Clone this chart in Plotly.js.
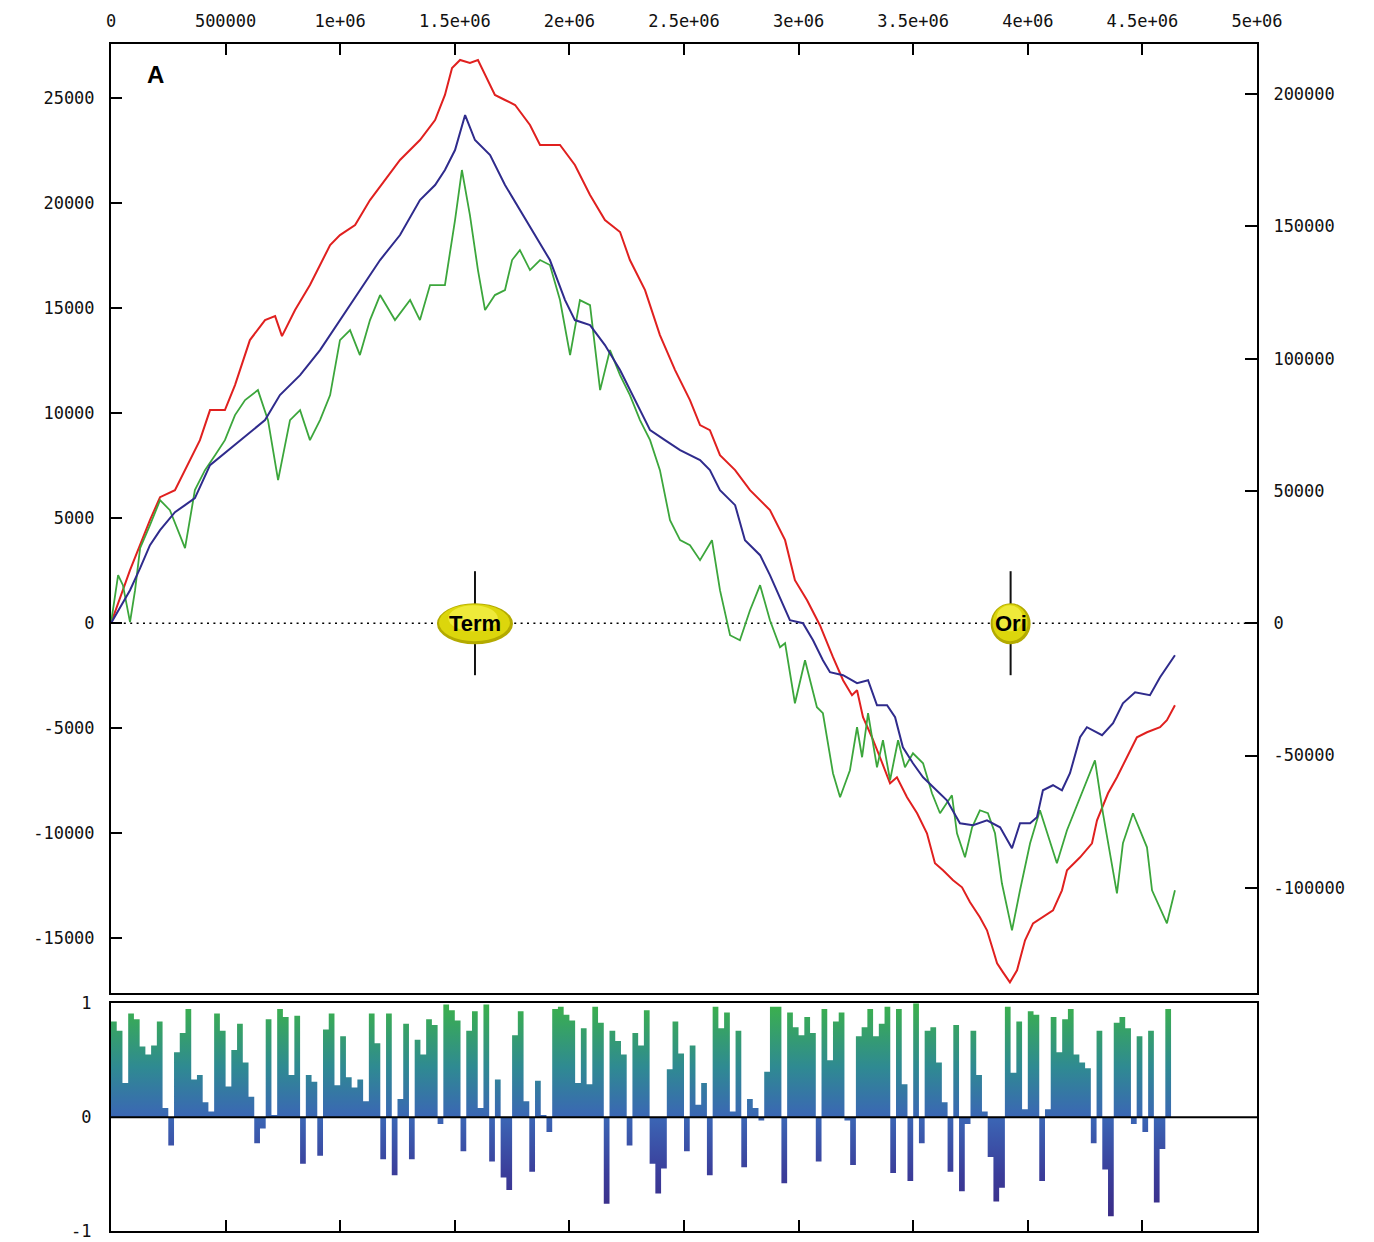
<!DOCTYPE html>
<html>
<head>
<meta charset="utf-8">
<script src="https://cdn.plot.ly/plotly-3.0.1.min.js"></script>
<style>html,body{margin:0;padding:0;background:#fff;}#chart{width:1374px;height:1242px;}</style>
</head>
<body>
<div id="chart"></div>
<script>
// ---------- Data ----------
const redX = [0,83000,170000,214000,279000,345000,388000,432000,497000,541000,606000,672000,716000,746000,803000,868000,956000,999000,1065000,1130000,1195000,1261000,1348000,1414000,1457000,1488000,1523000,1566000,1601000,1645000,1675000,1719000,1763000,1828000,1872000,1959000,2024000,2090000,2155000,2221000,2264000,2330000,2395000,2461000,2526000,2570000,2613000,2657000,2723000,2788000,2875000,2941000,2984000,3037000,3093000,3150000,3194000,3233000,3255000,3281000,3320000,3355000,3399000,3429000,3473000,3517000,3560000,3595000,3630000,3674000,3713000,3748000,3791000,3822000,3866000,3892000,3922000,3953000,3988000,4023000,4066000,4110000,4149000,4171000,4228000,4280000,4302000,4350000,4389000,4433000,4476000,4520000,4577000,4607000,4642000];
const redY = [0,2524,4905,6000,6333,7762,8714,10143,10143,11333,13476,14429,14619,13667,14905,16095,18000,18476,18952,20143,21095,22048,23000,23952,25143,26429,26810,26667,26810,25857,25143,24905,24667,23714,22762,22762,21810,20381,19190,18619,17286,15857,13714,12048,10619,9429,9190,8000,7286,6333,5381,3952,2048,1095,-95,-1619,-2714,-3429,-3190,-4476,-5429,-6381,-7619,-7333,-8286,-9048,-10000,-11429,-11762,-12238,-12571,-13286,-14000,-14619,-16190,-16619,-17095,-16524,-15095,-14286,-14000,-13667,-12714,-11762,-11143,-10476,-9381,-8095,-7333,-6381,-5429,-5190,-4952,-4619,-3905];

const blueX = [0,39000,83000,127000,170000,214000,279000,323000,366000,432000,563000,672000,737000,825000,912000,999000,1086000,1174000,1261000,1348000,1414000,1457000,1501000,1545000,1588000,1654000,1719000,1784000,1850000,1915000,1981000,2024000,2090000,2155000,2221000,2286000,2352000,2417000,2483000,2570000,2613000,2657000,2723000,2766000,2832000,2875000,2919000,2962000,3019000,3063000,3106000,3137000,3194000,3255000,3303000,3342000,3386000,3421000,3455000,3499000,3543000,3604000,3647000,3704000,3761000,3822000,3879000,3931000,3966000,4010000,4040000,4066000,4110000,4149000,4184000,4228000,4258000,4324000,4372000,4415000,4468000,4533000,4577000,4642000];
const blueY = [0,714,1571,2619,3714,4429,5286,5619,5952,7524,8714,9667,10857,11810,13000,14429,15857,17286,18476,20143,20857,21571,22524,24190,23000,22286,20857,19667,18476,17286,15381,14429,14190,13238,12048,10619,9190,8714,8238,7762,7286,6333,5619,3952,3238,2286,1238,143,0,-810,-1762,-2333,-2476,-2857,-2714,-3905,-3905,-4476,-5905,-6667,-7333,-7952,-8429,-9524,-9619,-9381,-9714,-10714,-9524,-9524,-9238,-7952,-7714,-7952,-7143,-5429,-4952,-5333,-4762,-3810,-3286,-3429,-2571,-1524];

const greenX = [0,31000,52000,83000,105000,127000,170000,214000,257000,301000,323000,366000,410000,454000,497000,541000,585000,641000,685000,729000,781000,825000,868000,912000,956000,999000,1043000,1086000,1130000,1174000,1239000,1305000,1348000,1392000,1457000,1501000,1531000,1566000,1601000,1632000,1675000,1719000,1750000,1784000,1828000,1872000,1915000,1959000,2003000,2046000,2090000,2134000,2177000,2221000,2264000,2308000,2352000,2395000,2439000,2483000,2526000,2570000,2622000,2657000,2701000,2744000,2788000,2832000,2875000,2919000,2941000,2984000,3028000,3080000,3106000,3150000,3181000,3224000,3255000,3277000,3303000,3342000,3368000,3399000,3434000,3464000,3499000,3543000,3582000,3617000,3669000,3691000,3726000,3757000,3791000,3826000,3857000,3887000,3931000,3966000,4010000,4053000,4084000,4127000,4171000,4228000,4293000,4328000,4389000,4415000,4459000,4520000,4542000,4607000,4642000];
const greenY = [0,2286,1810,48,1571,3571,4667,5857,5381,4190,3571,6333,7286,8000,8714,9905,10619,11095,9667,6810,9667,10143,8714,9667,10857,13476,13952,12762,14429,15619,14429,15381,14429,16095,16095,19190,21571,19429,16810,14905,15619,15857,17286,17762,16810,17286,17048,15381,12762,15381,15143,11095,13000,11810,10857,9667,8714,7286,4905,3952,3714,3000,3952,1571,-571,-810,619,1810,143,-1143,-952,-3810,-1762,-4000,-4286,-7143,-8286,-7000,-4952,-6381,-4286,-6857,-5571,-7476,-5571,-6857,-6190,-6667,-8095,-9048,-8190,-10000,-11143,-9714,-8905,-9048,-10000,-12381,-14619,-12714,-10476,-8905,-10000,-11429,-9857,-8286,-6524,-9048,-12857,-10476,-9048,-10667,-12714,-14286,-12714];

// bar values per 25 kb window (lower panel)
const barValues = [
 0.84,0.76,0.30,0.91,0.86,0.62,0.55,0.63,0.84,0.08,-0.25,0.57,0.74,0.95,0.33,0.37,0.13,0.05,0.91,0.76,
 0.27,0.59,0.82,0.48,0.18,-0.23,-0.10,0.86,0.02,0.95,0.88,0.37,0.89,-0.41,0.37,0.31,-0.34,0.77,0.91,0.28,
 0.71,0.35,0.26,0.33,0.14,0.91,0.65,-0.37,0.91,-0.51,
 0.16,0.82,-0.37,0.68,0.55,0.86,0.81,-0.06,0.99,0.94,0.85,-0.30,0.76,0.93,0.08,0.99,-0.39,0.33,-0.53,-0.64,
 0.72,0.93,0.14,-0.48,0.32,0.02,-0.13,0.95,0.97,0.90,0.85,0.30,0.78,0.29,0.97,0.83,-0.76,0.76,0.67,0.55,
 -0.25,0.74,0.63,0.94,-0.41,-0.67,-0.45,0.42,0.84,0.56,-0.30,
 0.63,0.11,0.30,-0.51,0.97,0.78,0.92,0.05,0.76,-0.44,0.16,0.08,-0.03,0.40,0.97,0.97,-0.58,0.92,0.79,0.72,
 0.88,0.74,-0.39,0.95,0.50,0.84,0.92,-0.03,-0.42,0.71,0.79,0.95,0.71,0.82,0.97,-0.49,0.95,0.29,-0.56,1.00,
 -0.23,0.76,0.79,0.48,0.13,-0.48,0.81,-0.65,-0.06,0.76,
 0.37,0.05,-0.35,-0.74,-0.62,0.97,0.39,0.84,0.07,0.93,0.90,-0.56,0.07,0.88,0.57,0.86,0.95,0.55,0.48,0.43,
 -0.23,0.76,-0.46,-0.87,0.83,0.88,0.78,-0.06,0.71,-0.13,0.76,-0.75,-0.28,0.95
];
const binSize = 25000;

const xTickVals = [0,500000,1000000,1500000,2000000,2500000,3000000,3500000,4000000,4500000,5000000];
const xTickText = ['0','500000','1e+06','1.5e+06','2e+06','2.5e+06','3e+06','3.5e+06','4e+06','4.5e+06','5e+06'];
const yLeftVals = [-15000,-10000,-5000,0,5000,10000,15000,20000,25000];
const yLeftText = ['-15000','-10000','-5000','0','5000','10000','15000','20000','25000'];
const yRightVals = [-100000,-50000,0,50000,100000,150000,200000];
const yRightText = ['-100000','-50000','0','50000','100000','150000','200000'];
const yBarVals = [-1,0,1];
const yBarText = ['-1','0','1'];

const markerNames = ['Term','Ori'];
const markerPos = [1588000, 3925000];

// ---------- Build step outline of bar panel ----------
const stepX = [], stepY = [];
for (let i = 0; i < barValues.length; i++) { stepX.push(i * binSize); stepY.push(barValues[i]); }
stepX.push(barValues.length * binSize); stepY.push(barValues[barValues.length - 1]);

const tickFont = {family: 'DejaVu Sans Mono', size: 17, color: '#111'};

const traces = [
  {x: redX, y: redY, type: 'scatter', mode: 'lines', line: {color: '#e0201f', width: 2}, xaxis: 'x', yaxis: 'y', hoverinfo: 'skip'},
  {x: greenX, y: greenY, type: 'scatter', mode: 'lines', line: {color: '#3ca63c', width: 1.8}, xaxis: 'x', yaxis: 'y', hoverinfo: 'skip'},
  {x: blueX, y: blueY, type: 'scatter', mode: 'lines', line: {color: '#2f2b8c', width: 2}, xaxis: 'x', yaxis: 'y', hoverinfo: 'skip'},
  {x: [0, 5000000], y: [0, 0], type: 'scatter', mode: 'lines', line: {width: 0}, xaxis: 'x', yaxis: 'y2', hoverinfo: 'skip', showlegend: false},
  {x: stepX, y: stepY, type: 'scatter', mode: 'lines', line: {shape: 'hv', width: 0, color: 'rgba(0,0,0,0)'},
   fill: 'tozeroy',
   fillgradient: {type: 'vertical', start: -1, stop: 1,
     colorscale: [[0, '#3a2680'], [0.25, '#3b3d9a'], [0.5, '#3b66b5'], [0.72, '#2f8a92'], [1, '#3bb14a']]},
   xaxis: 'x2', yaxis: 'y3', hoverinfo: 'skip'}
];

const shapes = [
  {type: 'line', xref: 'paper', x0: 0, x1: 1, yref: 'y', y0: 0, y1: 0, line: {color: '#000', width: 1.6, dash: '2px,4.4px'}, layer: 'below'},
  {type: 'line', xref: 'paper', x0: 0, x1: 1, yref: 'y3', y0: 0, y1: 0, line: {color: '#000', width: 2}, layer: 'above'}
];
const annotations = [
  {xref: 'x', yref: 'y', x: 192000, y: 26100, text: '<b>A</b>', showarrow: false,
   font: {family: 'Liberation Sans', size: 24, color: '#000'}, xanchor: 'center', yanchor: 'middle'}
];
markerNames.forEach((name, i) => {
  const xp = markerPos[i];
  const halfW = name === 'Term' ? 38 : 20;
  shapes.push({type: 'line', xref: 'x', yref: 'y', x0: xp, x1: xp, ysizemode: 'pixel', yanchor: 0, y0: -52, y1: 52,
    line: {color: '#111', width: 2}, layer: 'above'});
  shapes.push({type: 'circle', xref: 'x', yref: 'y', xsizemode: 'pixel', xanchor: xp, x0: -halfW, x1: halfW,
    ysizemode: 'pixel', yanchor: 0, y0: -21, y1: 20, fillcolor: '#b3aa00', line: {width: 0}, layer: 'above'});
  shapes.push({type: 'circle', xref: 'x', yref: 'y', xsizemode: 'pixel', xanchor: xp, x0: -halfW + 2, x1: halfW - 3,
    ysizemode: 'pixel', yanchor: 0, y0: -18, y1: 19, fillcolor: '#dcd60c', line: {width: 0}, layer: 'above'});
  shapes.push({type: 'circle', xref: 'x', yref: 'y', xsizemode: 'pixel', xanchor: xp, x0: -halfW * 0.7, x1: halfW * 0.6,
    ysizemode: 'pixel', yanchor: 0, y0: -8, y1: 18, fillcolor: '#eeea3a', line: {width: 0}, layer: 'above'});
  annotations.push({xref: 'x', yref: 'y', x: xp, y: 0, text: '<b>' + name + '</b>', showarrow: false,
    font: {family: 'Liberation Sans', size: 22, color: '#000'}, xanchor: 'center', yanchor: 'middle'});
});

const axisCommon = {showgrid: false, zeroline: false, showline: true, linecolor: '#000', linewidth: 2,
  ticks: 'inside', tickcolor: '#000', tickwidth: 2, tickfont: tickFont, tickmode: 'array', fixedrange: true};

const layout = {
  width: 1374, height: 1242,
  margin: {l: 111, r: 117, t: 44, b: 11, pad: 0},
  paper_bgcolor: '#fff', plot_bgcolor: 'rgba(0,0,0,0)',
  showlegend: false,
  xaxis: Object.assign({}, axisCommon, {domain: [0, 1], anchor: 'y', side: 'top', range: [0, 5000000],
    tickvals: xTickVals, ticktext: xTickText, ticklen: 11, mirror: true, ticklabelstandoff: 8}),
  yaxis: Object.assign({}, axisCommon, {domain: [0.2002, 1], anchor: 'x', range: [-17620, 27570],
    tickvals: yLeftVals, ticktext: yLeftText, ticklen: 11, mirror: true, ticklabelstandoff: 11}),
  yaxis2: Object.assign({}, axisCommon, {overlaying: 'y', side: 'right', anchor: 'x', range: [-139890, 218900],
    tickvals: yRightVals, ticktext: yRightText, ticklen: 12, ticklabelstandoff: 11}),
  xaxis2: Object.assign({}, axisCommon, {domain: [0, 1], anchor: 'y3', range: [0, 5000000],
    tickvals: xTickVals.slice(1, -1), ticklen: 11, showticklabels: false, mirror: true}),
  yaxis3: Object.assign({}, axisCommon, {domain: [0, 0.1918], anchor: 'x2', range: [-1, 1],
    tickvals: yBarVals, ticktext: yBarText, ticks: '', mirror: true, ticklabelstandoff: 14, ticklabeloverflow: 'allow'}),
  shapes: shapes,
  annotations: annotations
};

Plotly.newPlot('chart', traces, layout, {staticPlot: true, displayModeBar: false});
</script>
</body>
</html>
